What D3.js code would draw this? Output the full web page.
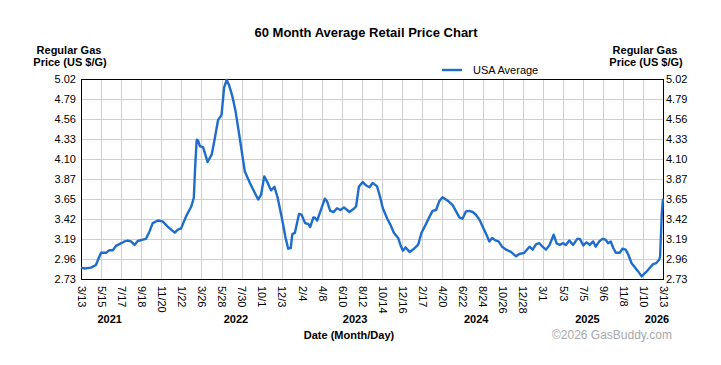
<!DOCTYPE html>
<html>
<head>
<meta charset="utf-8">
<script src="https://cdn.jsdelivr.net/npm/d3@7"></script>
<style>
  body { margin: 0; background: #fff; }
  svg { font-family: "Liberation Sans", Arial, sans-serif; }
</style>
</head>
<body>
<svg id="chart" width="721" height="365"></svg>
<script>
// weekly-ish readings of the USA average line
const dates = [
  "2021-03-13","2021-03-24","2021-04-13","2021-04-29","2021-05-10","2021-05-15","2021-05-31","2021-06-10",
  "2021-06-21","2021-07-01","2021-07-17","2021-07-27","2021-08-07","2021-08-17","2021-08-28","2021-09-07",
  "2021-09-23","2021-10-03","2021-10-14","2021-10-24","2021-11-09","2021-11-24","2021-12-10","2022-01-01",
  "2022-01-11","2022-01-21","2022-02-06","2022-02-22","2022-03-02","2022-03-06","2022-03-11","2022-03-16",
  "2022-03-21","2022-03-31","2022-04-14","2022-04-27","2022-05-07","2022-05-17","2022-05-28","2022-06-05",
  "2022-06-13","2022-06-20","2022-07-01","2022-07-11","2022-07-24","2022-08-09","2022-08-25","2022-09-04",
  "2022-09-20","2022-09-29","2022-10-09","2022-10-20","2022-10-30","2022-11-10","2022-11-20","2022-12-03",
  "2022-12-15","2022-12-23","2022-12-31","2023-01-05","2023-01-13","2023-01-26","2023-02-03","2023-02-14",
  "2023-02-24","2023-03-02","2023-03-12","2023-03-16","2023-03-24","2023-04-03","2023-04-17","2023-04-24",
  "2023-05-04","2023-05-15","2023-05-25","2023-06-05","2023-06-16","2023-06-26","2023-07-03","2023-07-17",
  "2023-07-24","2023-08-02","2023-08-14","2023-08-25","2023-09-04","2023-09-14","2023-09-28","2023-10-08",
  "2023-10-16","2023-10-30","2023-11-09","2023-11-20","2023-12-03","2023-12-10","2023-12-18","2023-12-26",
  "2024-01-08","2024-01-22","2024-02-04","2024-02-14","2024-02-27","2024-03-11","2024-03-20","2024-03-31",
  "2024-04-10","2024-04-20","2024-05-01","2024-05-09","2024-05-22","2024-06-01","2024-06-12","2024-06-22",
  "2024-07-03","2024-07-13","2024-07-24","2024-08-03","2024-08-14","2024-08-24","2024-09-06","2024-09-14",
  "2024-09-23","2024-10-03","2024-10-13","2024-10-24","2024-11-06","2024-11-21","2024-12-07","2024-12-17",
  "2025-01-02","2025-01-18","2025-01-28","2025-02-08","2025-02-18","2025-02-28","2025-03-11","2025-03-22",
  "2025-04-04","2025-04-13","2025-04-23","2025-05-04","2025-05-12","2025-05-23","2025-06-04","2025-06-17",
  "2025-06-25","2025-07-06","2025-07-16","2025-07-26","2025-08-06","2025-08-14","2025-08-25","2025-09-04",
  "2025-09-14","2025-09-22","2025-09-30","2025-10-08","2025-10-16","2025-10-28","2025-11-06","2025-11-16",
  "2025-11-24","2025-12-04","2025-12-15","2025-12-25","2026-01-05","2026-01-12","2026-01-21","2026-01-30",
  "2026-02-10","2026-02-20","2026-03-01","2026-03-04","2026-03-09","2026-03-13"
];
const prices = [
  2.86,2.85,2.86,2.89,2.99,3.03,3.03,3.06,
  3.06,3.11,3.14,3.16,3.17,3.16,3.12,3.165,
  3.18,3.19,3.275,3.37,3.40,3.39,3.33,3.26,
  3.295,3.31,3.45,3.56,3.66,4.00,4.325,4.31,
  4.25,4.24,4.07,4.155,4.345,4.55,4.61,4.92,
  5.01,4.955,4.82,4.65,4.345,3.96,3.83,3.755,
  3.64,3.695,3.905,3.83,3.745,3.785,3.66,3.43,
  3.20,3.077,3.085,3.245,3.257,3.475,3.466,3.37,
  3.36,3.325,3.435,3.435,3.40,3.505,3.65,3.62,
  3.51,3.497,3.54,3.52,3.55,3.52,3.497,3.535,
  3.56,3.79,3.84,3.80,3.78,3.83,3.79,3.66,
  3.54,3.42,3.35,3.257,3.20,3.123,3.054,3.092,
  3.04,3.077,3.123,3.257,3.35,3.447,3.51,3.52,
  3.62,3.665,3.64,3.62,3.575,3.51,3.435,3.42,
  3.505,3.51,3.497,3.466,3.41,3.33,3.23,3.16,
  3.20,3.172,3.16,3.10,3.066,3.04,2.99,3.016,
  3.03,3.10,3.066,3.13,3.14,3.10,3.066,3.12,
  3.237,3.14,3.12,3.14,3.12,3.17,3.12,3.19,
  3.19,3.115,3.15,3.12,3.16,3.10,3.16,3.19,
  3.18,3.14,3.16,3.085,3.03,3.03,3.077,3.066,
  3.01,2.913,2.863,2.817,2.76,2.787,2.817,2.856,
  2.90,2.913,2.95,2.99,3.466,3.65
];

const tickDates = [
  "2021-03-13","2021-05-15","2021-07-17","2021-09-18","2021-11-20","2022-01-22","2022-03-26","2022-05-28",
  "2022-07-30","2022-10-01","2022-12-03","2023-02-04","2023-04-08","2023-06-10","2023-08-12","2023-10-14",
  "2023-12-16","2024-02-17","2024-04-20","2024-06-22","2024-08-24","2024-10-26","2024-12-28","2025-03-01",
  "2025-05-03","2025-07-05","2025-09-06","2025-11-08","2026-01-10","2026-03-13"
];
const priceTicks = [2.73, 2.96, 3.19, 3.42, 3.65, 3.87, 4.10, 4.33, 4.56, 4.79, 5.02];
const years = ["2021", "2022", "2023", "2024", "2025", "2026"];
const yearDates = ["2021-06-11", "2022-07-12", "2023-07-21", "2024-08-04", "2025-07-19", "2026-02-22"];

const parse = d3.timeParse("%Y-%m-%d");
const fmt = d3.timeFormat("%-m/%-d");

const svg = d3.select("#chart"),
      marginLeft = 81, marginTop = 79,
      width = 582, height = 200;

const x = d3.scaleTime()
  .domain([parse(tickDates[0]), parse(tickDates[tickDates.length - 1])])
  .range([0, width]);
const y = d3.scaleLinear().domain([2.73, 5.02]).range([height, 0]);

const g = svg.append("g").attr("transform", "translate(" + marginLeft + "," + marginTop + ")");

// grid
g.append("g").selectAll("line")
  .data(tickDates.map(parse))
  .enter().append("line")
  .attr("x1", d => Math.round(x(d)) + 0.5).attr("x2", d => Math.round(x(d)) + 0.5)
  .attr("y1", 0).attr("y2", height)
  .attr("stroke", "#cfcfcf");
g.append("g").selectAll("line")
  .data(priceTicks)
  .enter().append("line")
  .attr("x1", 0).attr("x2", width)
  .attr("y1", d => Math.round(y(d)) + 0.5).attr("y2", d => Math.round(y(d)) + 0.5)
  .attr("stroke", "#cfcfcf");

// frame
g.append("rect")
  .attr("x", 0.5).attr("y", 0.5)
  .attr("width", width).attr("height", height)
  .attr("fill", "none").attr("stroke", "#000");

// y axes (left and right)
const yl = g.append("g")
  .call(d3.axisLeft(y).tickValues(priceTicks).tickFormat(d3.format(".2f")).tickSize(0).tickPadding(5));
const yr = g.append("g")
  .attr("transform", "translate(" + width + ",0)")
  .call(d3.axisRight(y).tickValues(priceTicks).tickFormat(d3.format(".2f")).tickSize(0).tickPadding(3));
[yl, yr].forEach(a => {
  a.select(".domain").remove();
  a.selectAll("text").attr("font-size", 11).attr("fill", "#000")
    .style("font-family", "'Liberation Sans', Arial, sans-serif");
});

// x axis
const xa = g.append("g")
  .attr("transform", "translate(0," + height + ")")
  .call(d3.axisBottom(x).tickValues(tickDates.map(parse)).tickFormat(fmt).tickSize(0));
xa.select(".domain").remove();
xa.selectAll("text")
  .attr("font-size", 11).attr("fill", "#000")
  .style("font-family", "'Liberation Sans', Arial, sans-serif")
  .attr("transform", "rotate(90)")
  .attr("text-anchor", "start")
  .attr("x", 7).attr("y", 0).attr("dy", "0.35em");

// year labels
g.append("g").selectAll("text")
  .data(years)
  .enter().append("text")
  .attr("x", (d, i) => x(parse(yearDates[i])))
  .attr("y", 244)
  .attr("text-anchor", "middle")
  .attr("font-size", 11).attr("font-weight", "bold")
  .text(d => d);

// price line
const line = d3.line()
  .x((d, i) => x(parse(dates[i])))
  .y(d => y(d));
g.append("path")
  .datum(prices)
  .attr("fill", "none")
  .attr("stroke", "#1e6dcc")
  .attr("stroke-width", 2.4)
  .attr("stroke-linejoin", "round")
  .attr("d", line);

// title
svg.append("text")
  .attr("x", 366).attr("y", 37)
  .attr("text-anchor", "middle")
  .attr("font-size", 13).attr("font-weight", "bold")
  .text("60 Month Average Retail Price Chart");

// axis titles
[69, 645].forEach(cx => {
  const t = svg.append("text")
    .attr("text-anchor", "middle")
    .attr("font-size", 11).attr("font-weight", "bold");
  t.append("tspan").attr("x", cx).attr("y", 54).text("Regular Gas");
  t.append("tspan").attr("x", cx + 1).attr("y", 66).text("Price (US $/G)");
});

// legend
svg.append("line")
  .attr("x1", 442).attr("x2", 462).attr("y1", 70).attr("y2", 70)
  .attr("stroke", "#1e6dcc").attr("stroke-width", 2.4);
svg.append("text")
  .attr("x", 473).attr("y", 74)
  .attr("font-size", 11)
  .text("USA Average");

svg.append("text")
  .attr("x", 349).attr("y", 339)
  .attr("text-anchor", "middle")
  .attr("font-size", 11).attr("font-weight", "bold")
  .text("Date (Month/Day)");

svg.append("text")
  .attr("x", 672).attr("y", 339)
  .attr("text-anchor", "end")
  .attr("font-size", 12)
  .attr("fill", "#a8a8a8")
  .text("©2026 GasBuddy.com");
</script>
</body>
</html>
